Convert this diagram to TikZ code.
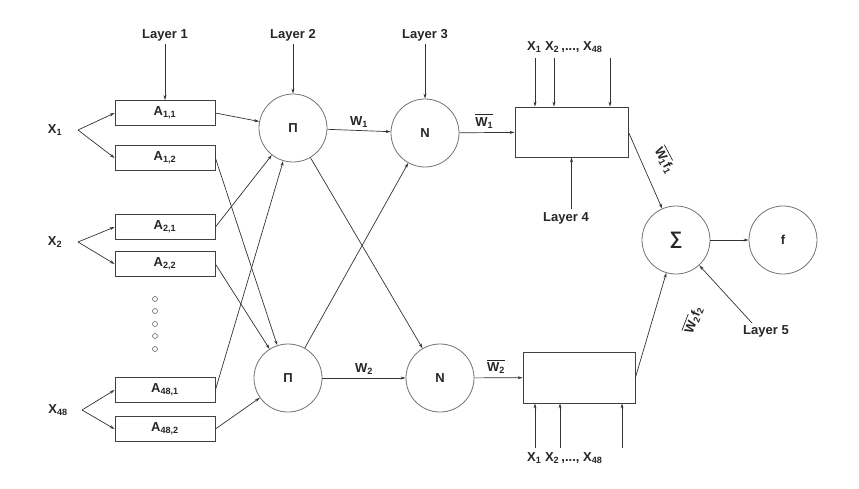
\documentclass[tikz,border=0pt]{standalone}
\usepackage{fontspec}
\setmainfont{Liberation Sans}
\usetikzlibrary{arrows.meta}
\newcommand{\ovw}[1]{\leavevmode\vbox{\hrule height 0.7pt\kern 2pt\hbox{W\textsubscript{#1}}}}
\begin{document}
\begin{tikzpicture}[x=1pt,y=-1pt,
  every node/.style={font=\bfseries\fontsize{13}{15}\selectfont,text=black!85},
  box/.style={draw=black!75,line width=0.8pt,minimum width=100pt,minimum height=25pt,inner sep=0pt},
  big/.style={draw=black!75,line width=0.8pt,inner sep=0pt},
  neu/.style={draw=black!55,line width=0.8pt,circle,minimum size=68pt,inner sep=0pt},
  lbl/.style={inner sep=1pt},
  arr/.style={-{Stealth[length=5pt,width=3pt]},draw=black!80,line width=0.7pt}]
\useasboundingbox (0,0) rectangle (859,488);
% layer 1 boxes
\node[box] (a11) at (165,113) {A\textsubscript{1,1}};
\node[box] (a12) at (165,158) {A\textsubscript{1,2}};
\node[box] (a21) at (165,227) {A\textsubscript{2,1}};
\node[box] (a22) at (165,264) {A\textsubscript{2,2}};
\node[box] (a481) at (165,390) {A\textsubscript{48,1}};
\node[box] (a482) at (165,429) {A\textsubscript{48,2}};
\foreach \y [count=\i] in {299,311,324,336,349}
  \node[circle,draw=black!60,line width=0.6pt,minimum size=5pt,inner sep=0pt] (d\i) at (155,\y) {};
% inputs
\node (x1) at (55,130) {X\textsubscript{1}};
\node (x2) at (55,242) {X\textsubscript{2}};
\node (x48) at (58,410) {X\textsubscript{48}};
\coordinate (f1) at (78,130);
\coordinate (f2) at (78,242);
\coordinate (f48) at (82,410);
\draw[arr] (f1) -- (a11.west);
\draw[arr] (f1) -- (a12.west);
\draw[arr] (f2) -- (a21.west);
\draw[arr] (f2) -- (a22.west);
\draw[arr] (f48) -- (a481.west);
\draw[arr] (f48) -- (a482.west);
% layer 2,3
\node[neu] (p1) at (293,128) {Π};
\node[neu] (p2) at (288,378) {Π};
\node[neu] (n1) at (425,133) {N};
\node[neu] (n2) at (440,378) {N};
\draw[arr] (a11.east) -- (p1);
\draw[arr] (a21.east) -- (p1);
\draw[arr] (a481.east) -- (p1);
\draw[arr] (a12.east) -- (p2);
\draw[arr] (a22.east) -- (p2);
\draw[arr] (a482.east) -- (p2);
\draw[arr] (p1) -- node[above,lbl,yshift=2pt] {W\textsubscript{1}} (n1);
\draw[arr] (p2) -- node[above,lbl,yshift=2pt] {W\textsubscript{2}} (n2);
\draw[arr] (p1) -- (n2);
\draw[arr] (p2) -- (n1);
% layer labels
\node (l1) at (165,35) {Layer 1};
\node (l2) at (293,35) {Layer 2};
\node (l3) at (425,35) {Layer 3};
\draw[arr] (l1) -- (a11);
\draw[arr] (l2) -- (p1);
\draw[arr] (l3) -- (n1);
% layer 4 boxes
\node[big,minimum width=113pt,minimum height=50pt] (b1) at (571.5,132) {};
\node[big,minimum width=112pt,minimum height=51pt] (b2) at (579,377.5) {};
\draw[arr] (n1) -- node[above,lbl,pos=0.45,yshift=3pt] {\ovw{1}} (b1);
\draw[arr] (n2) -- node[above,lbl,pos=0.45,yshift=3pt] {\ovw{2}} (b2);
\node[anchor=west,inner sep=0pt] (t) at (527,47) {X\textsubscript{1} X\textsubscript{2}\,,..., X\textsubscript{48}};
\coordinate (t1) at (535,58);
\coordinate (t2) at (554,58);
\coordinate (t3) at (610,58);
\draw[arr] (t1) -- (t1 |- b1.north);
\draw[arr] (t2) -- (t2 |- b1.north);
\draw[arr] (t3) -- (t3 |- b1.north);
\node[anchor=west,inner sep=0pt] (u) at (527,458) {X\textsubscript{1} X\textsubscript{2}\,,..., X\textsubscript{48}};
\coordinate (u1) at (535,448);
\coordinate (u2) at (560,448);
\coordinate (u3) at (622,448);
\draw[arr] (u1) -- (u1 |- b2.south);
\draw[arr] (u2) -- (u2 |- b2.south);
\draw[arr] (u3) -- (u3 |- b2.south);
\node (l4) at (566,218) {Layer 4};
\draw[arr] (l4.north -| b1.south) -- (b1.south);
% layer 5
\node[neu] (s) at (676,240) {\fontsize{18}{20}\selectfont ∑};
\node[neu] (f) at (783,240) {f};
\draw[arr] (b1.east) -- (s);
\node[rotate=-62,lbl] (w1f) at (665,160) {\ovw{1}f\textsubscript{1}};
\draw[arr] (b2.east) -- (s);
\node[rotate=69,lbl] (w2f) at (693,320) {\ovw{2}f\textsubscript{2}};
\draw[arr] (s) -- (f);
\node (l5) at (766,331) {Layer 5};
\coordinate (l5a) at (752,323);
\draw[arr] (l5a) -- (s);
\end{tikzpicture}
\end{document}
